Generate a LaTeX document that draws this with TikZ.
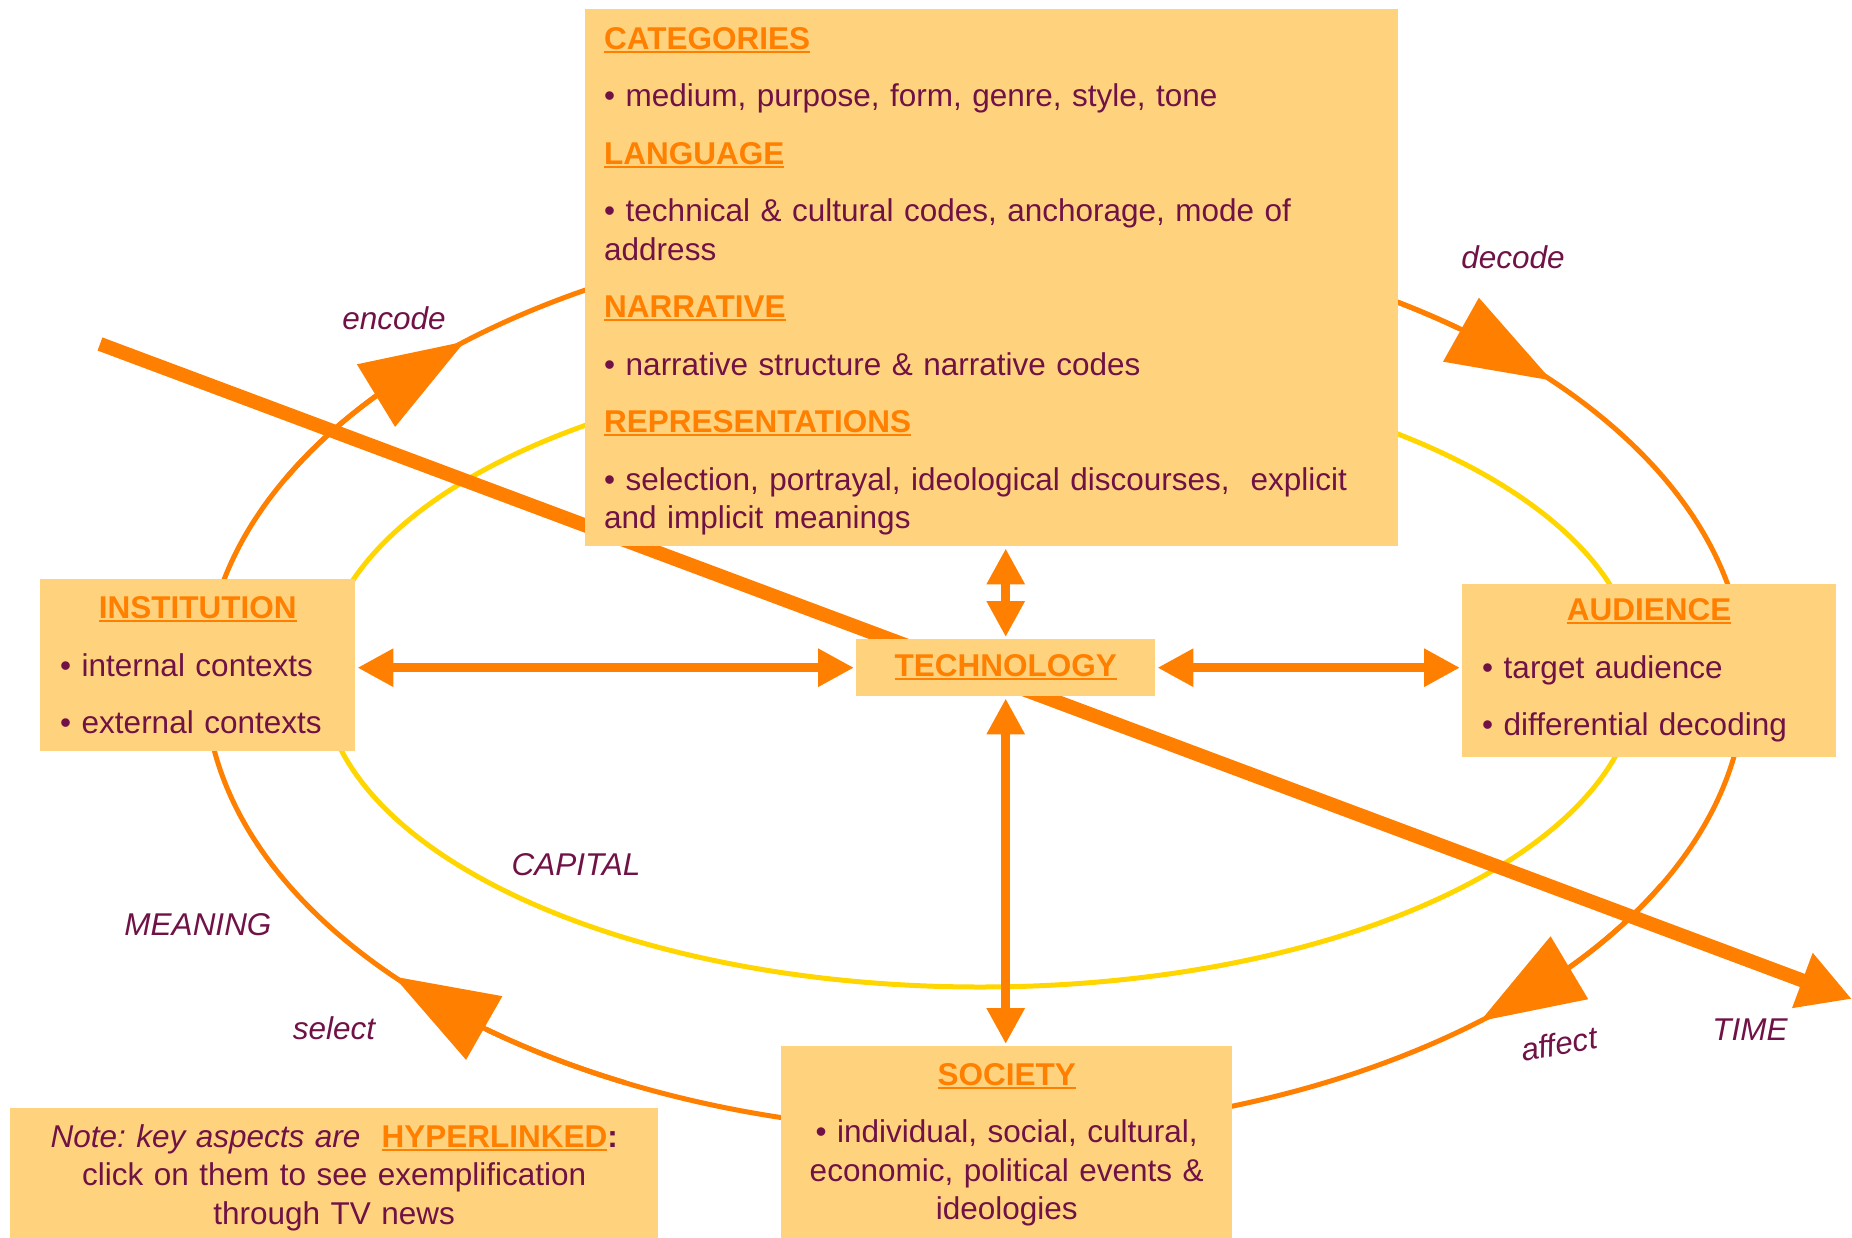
\documentclass[tikz,border=0pt]{standalone}
\usepackage{fontspec}
\setmainfont{Liberation Sans}
\usepackage{xcolor}
\usetikzlibrary{arrows.meta,bending,positioning}
\definecolor{boxfill}{RGB}{255,211,125}
\definecolor{lineorange}{RGB}{255,127,0}
\definecolor{capyellow}{RGB}{255,214,0}
\definecolor{textmaroon}{RGB}{112,18,70}
\frenchspacing
\newcommand{\bodyfont}{\fontsize{31.5}{38.5}\selectfont\frenchspacing}
\newcommand{\headlink}[1]{\leavevmode{\color{lineorange}\bfseries\setbox0=\hbox{#1}\rlap{\rule[-3.5pt]{\wd0}{2pt}}\box0}}
\tikzstyle{box} = [fill=boxfill, text=textmaroon, inner sep=0pt, anchor=north west]
\tikzstyle{tag} = [text=textmaroon, font=\bodyfont\itshape, anchor=base]
\tikzstyle{link} = [draw=lineorange, line width=9pt, shorten <=2pt, shorten >=2pt,
    arrows={Triangle[length=36pt,width=36pt]-Triangle[length=36pt,width=36pt]}]

\begin{document}
\begin{tikzpicture}[x=1pt, y=-1pt, font=\bodyfont]
  \useasboundingbox (0,0) rectangle (1852,1237);
  % the two rings
  \coordinate (inner) at (980,675);
  \coordinate (outer) at (975,680);
  \draw[capyellow, line width=5pt] (inner) ellipse [x radius=658, y radius=312];
  \draw[lineorange, line width=5pt] (outer) ellipse [x radius=770, y radius=452];
  \foreach \a in {49,139,228.5,318.5}
    \draw[lineorange, line width=5pt, -{Triangle[length=104pt,width=72pt,flex]}]
      (outer) ++(\a-22:770 and 452) arc [start angle=\a-22, end angle=\a, x radius=770, y radius=452];
  % time
  \coordinate (tstart) at (100,344);
  \coordinate (tend) at (1852,999);
  \draw[lineorange, line width=14pt, -{Triangle[length=53pt,width=55pt]}] (tstart) -- (tend);
  % Place nodes
  \node [box, text width=775pt, inner xsep=19pt, minimum height=537pt, align=left] (cats) at (585,9)
  {\rule{0pt}{29pt}\headlink{CATEGORIES}\\[19pt]
   • medium, purpose, form, genre, style, tone\\[19pt]
   \headlink{LANGUAGE}\\[19pt]
   • technical \& cultural codes, anchorage, mode of\\
   address\\[19pt]
   \headlink{NARRATIVE}\\[19pt]
   • narrative structure \& narrative codes\\[19pt]
   \headlink{REPRESENTATIONS}\\[19pt]
   • selection, portrayal, ideological discourses,\ \ explicit\\
   and implicit meanings};
  \node [box, text width=275pt, inner xsep=20pt, minimum height=172pt, align=left] (inst) at (40,579)
  {\makebox[\linewidth]{\headlink{INSTITUTION}}\\[19pt]
   • internal contexts\\[19pt]
   • external contexts};
  \node [box, minimum width=299pt, minimum height=57pt] (tech) at (856,639) {\headlink{TECHNOLOGY}};
  \node [box, text width=334pt, inner xsep=20pt, minimum height=173pt, align=left] (aud) at (1462,584)
  {\makebox[\linewidth]{\headlink{AUDIENCE}}\\[19pt]
   • target audience\\[19pt]
   • differential decoding};
  \node [box, text width=411pt, inner xsep=20pt, minimum height=197pt, align=center] (soc) at (781,1046)
  {\headlink{SOCIETY}\\[19pt]
   • individual, social, cultural,\\
   economic, political events \&\\
   ideologies};
  \node [box, text width=608pt, inner xsep=20pt, minimum height=139pt, align=center] (note) at (10,1108)
  {\textit{Note: key aspects are}\ \ \headlink{HYPERLINKED}\textbf{:}\\
   click on them to see exemplification\\
   through TV news};
  % links
  \draw[link] (cats.south -| tech.north) -- (tech.north);
  \draw[link] (inst.east |- tech.west) -- (tech.west);
  \draw[link] (tech.east) -- (aud.west |- tech.east);
  \draw[link] (tech.south) -- (soc.north -| tech.south);
  % labels
  \node[tag] (encode) at (394,329) {encode};
  \node[tag] (decode) at (1513,268) {decode};
  \node[tag] (capital) at (576,875) {CAPITAL};
  \node[tag] (meaning) at (198,935) {MEANING};
  \node[tag] (select) at (334,1039) {select};
  \node[tag, anchor=center, rotate=10] (affect) at (1559,1044) {affect};
  \node[tag] (time) at (1750,1040) {TIME};
\end{tikzpicture}
\end{document}
